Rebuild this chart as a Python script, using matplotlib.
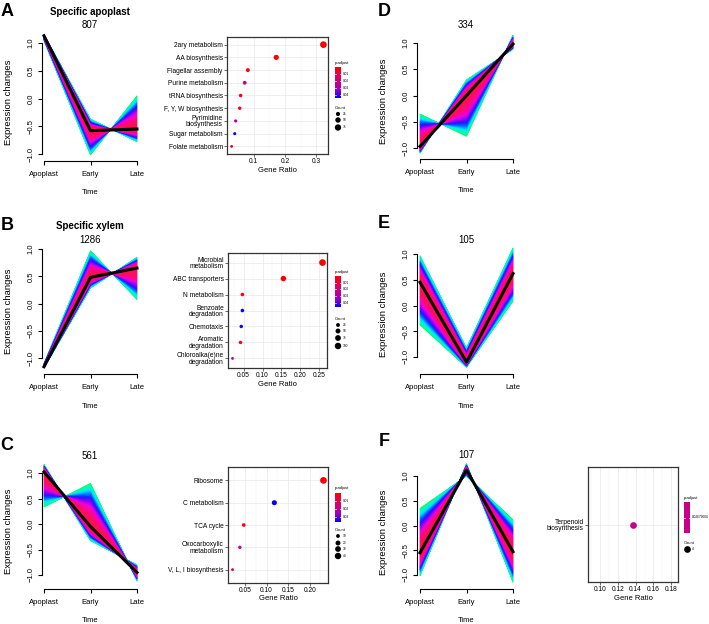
import numpy as np
import matplotlib
matplotlib.use('Agg')
import matplotlib.pyplot as plt
from matplotlib.colors import LinearSegmentedColormap

plt.rcParams['font.family'] = ['Liberation Sans', 'DejaVu Sans']

W, H = 709, 624

times = ['Apoplast', 'Early', 'Late']
yticks = [-1.0, -0.5, 0.0, 0.5, 1.0]

# cluster centroid and the two outermost member profiles of each band
a_center = [1.13, -0.58, -0.55]
a_edge1 = [1.04, -1.02, 0.05]
a_edge2 = [1.15, -0.37, -0.78]

b_center = [-1.16, 0.48, 0.65]
b_edge1 = [-1.10, 0.97, 0.07]
b_edge2 = [-1.18, 0.28, 0.85]

c_center = [1.02, -0.05, -0.95]
c_edge1 = [0.33, 0.80, -1.12]
c_edge2 = [1.17, -0.33, -0.80]

d_center = [-0.97, 0.0, 0.98]
d_edge1 = [-0.35, -0.78, 1.15]
d_edge2 = [-1.10, 0.30, 0.88]

e_center = [0.45, -1.10, 0.62]
e_edge1 = [0.97, -0.82, 1.12]
e_edge2 = [-0.38, -1.20, 0.08]

f_center = [-0.55, 1.12, -0.53]
f_edge1 = [0.35, 1.00, 0.12]
f_edge2 = [-1.02, 1.25, -1.15]

# enrichment dot plots
a_terms = ['2ary metabolism', 'AA biosynthesis', 'Flagellar assembly', 'Purine metabolism',
           'tRNA biosynthesis', 'F, Y, W biosynthesis', 'Pyrimidine\nbiosynthesis',
           'Sugar metabolism', 'Folate metabolism']
a_ratio = [0.323, 0.172, 0.081, 0.071, 0.058, 0.055, 0.042, 0.039, 0.029]
a_count = [85, 45, 21, 19, 15, 14, 11, 10, 8]
a_padj = [0.0005, 0.001, 0.004, 0.022, 0.003, 0.005, 0.032, 0.045, 0.012]

b_terms = ['Microbial\nmetabolism', 'ABC transporters', 'N metabolism', 'Benzoate\ndegradation',
           'Chemotaxis', 'Aromatic\ndegradation', 'Chloroalka(e)ne\ndegradation']
b_ratio = [0.258, 0.155, 0.047, 0.047, 0.044, 0.042, 0.021]
b_count = [108, 65, 20, 20, 18, 18, 9]
b_padj = [0.0001, 0.0002, 0.002, 0.046, 0.045, 0.003, 0.034]

c_terms = ['Ribosome', 'C metabolism', 'TCA cycle', 'Oxocarboxylic\nmetabolism', 'V, L, I biosynthesis']
c_ratio = [0.232, 0.118, 0.047, 0.038, 0.021]
c_count = [44, 22, 9, 7, 4]
c_padj = [0.0002, 0.036, 0.002, 0.018, 0.007]

f_terms = ['Terpenoid\nbiosynthesis']
f_ratio = [0.1365]
f_count = [4]
f_padj = [0.02679004]

band_cmap = LinearSegmentedColormap.from_list(
    'band', [(0.0, '#ff1040'), (0.3, '#ff0a78'), (0.45, '#f000e0'), (0.57, '#8000ff'),
             (0.66, '#1a1aff'), (0.75, '#0070ff'), (0.84, '#00e5ff'), (0.93, '#00ffb0'),
             (1.0, '#00ff60')])
padj_cmap = LinearSegmentedColormap.from_list(
    'padj', ['#ff0000', '#e7004f', '#c80088', '#9900c2', '#0000ff'])

fig = plt.figure(figsize=(W / 100, H / 100), dpi=100)

# pixel overlay for free text and legend keys
ov = fig.add_axes([0, 0, 1, 1])
ov.set_xlim(0, W)
ov.set_ylim(H, 0)
ov.axis('off')
ov.set_zorder(10)


def rect(l, t, r, b):
    return [l / W, 1 - b / H, (r - l) / W, (b - t) / H]


def line_panel(center, edge1, edge2, geo):
    xax, xa, xl, y1, ym1, yb = geo
    top, right = y1 - 18, xl + 4
    ax = fig.add_axes(rect(xax, top, right, yb))
    ppx = (xl - xa) / 2
    ppy = (ym1 - y1) / 2
    ax.set_xlim(1 - (xa - xax) / ppx, 3 + (right - xl) / ppx)
    ax.set_ylim(-1 - (yb - ym1) / ppy, 1 + (y1 - top) / ppy)
    ax.patch.set_alpha(0)
    x = np.arange(1, 4)
    c = np.array(center)
    n = 50
    steps = np.linspace(1, 0, n + 1)
    for i in range(n):
        col = band_cmap((steps[i] + steps[i + 1]) / 2)
        for e in (edge1, edge2):
            d = np.array(e) - c
            p0 = c + steps[i] * d
            p1 = c + steps[i + 1] * d
            ax.fill(np.r_[x, x[::-1]], np.r_[p0, p1[::-1]], color=col, lw=0.4, clip_on=False)
    ax.plot(x, c, color='black', lw=2.2, zorder=5, clip_on=False)
    for s in ('top', 'right'):
        ax.spines[s].set_visible(False)
    ax.spines['left'].set_bounds(-1, 1)
    ax.spines['bottom'].set_bounds(1, 3)
    for s in ('left', 'bottom'):
        ax.spines[s].set_linewidth(0.8)
    ax.set_xticks(x)
    ax.set_xticklabels(times)
    ax.set_yticks(yticks)
    ax.set_yticklabels([f'{v:.1f}'.replace('-', '\u2212') for v in yticks])
    ax.tick_params(length=3, width=0.8, labelsize=5.5)
    ax.tick_params(axis='x', pad=4)
    ax.tick_params(axis='y', pad=2.5)
    for lab in ax.get_yticklabels():
        lab.set_rotation(90)
        lab.set_va('center')
    ov.text(xax - 33, (y1 + yb) / 2, 'Expression changes', rotation=90, fontsize=6.8,
            ha='center', va='center')
    ov.text((xa + xl) / 2, yb + 32, 'Time', fontsize=5.5, ha='center', va='center')
    return ax


def dot_size(count, cmax):
    d = 1.2 + 5.5 * np.sqrt(np.array(count, dtype=float) / cmax)
    return (d * 0.72) ** 2


def dot_panel(terms, ratio, count, padj, box, xticks, xfmt, xlim=None):
    l, t, r, b = box
    ax = fig.add_axes(rect(l, t, r, b))
    n = len(terms)
    y = np.arange(n, 0, -1)
    lo, hi = min(padj), max(padj)
    if hi > lo:
        cols = padj_cmap((np.array(padj) - lo) / (hi - lo))
    else:
        cols = [padj_cmap(0.5)] * n
    ax.scatter(ratio, y, s=dot_size(count, max(count)), c=cols, linewidths=0, zorder=3)
    if xlim is None:
        span = max(ratio) - min(ratio)
        xlim = (min(ratio) - 0.05 * span, max(ratio) + 0.05 * span)
    ax.set_xlim(xlim)
    ax.set_ylim(0.4, n + 0.6)
    ax.set_yticks(y)
    ax.set_yticklabels(terms, fontsize=5, linespacing=0.85)
    ax.set_xticks(xticks)
    ax.set_xticklabels([xfmt % v for v in xticks])
    step = xticks[1] - xticks[0]
    ax.set_xticks(np.arange(xticks[0] - step / 2, xlim[1], step), minor=True)
    ax.grid(which='major', color='#ebebeb', lw=0.6)
    ax.grid(which='minor', axis='x', color='#f2f2f2', lw=0.35)
    ax.set_axisbelow(True)
    for s in ax.spines.values():
        s.set_color('#333333')
        s.set_linewidth(0.9)
    ax.tick_params(length=2, width=0.5, color='#333333', labelsize=4.8, pad=1)
    ax.tick_params(which='minor', length=0)
    ov.text((l + r) / 2, b + 16, 'Gene Ratio', fontsize=5.5, ha='center', va='center')
    return lo, hi, max(count)


def legend(x, ty, bt, bb, lo, hi, pticks, cy, cvals, cmax, plabels=None):
    ov.text(x, ty, 'p.adjust', fontsize=3, ha='left', va='center')
    cax = fig.add_axes(rect(x, bt, x + 6, bb))
    cax.axis('off')
    if hi > lo:
        cax.imshow(np.linspace(0, 1, 100)[:, None], cmap=padj_cmap, aspect='auto',
                   extent=[0, 1, hi, lo])
        pos = [bt + (p - lo) / (hi - lo) * (bb - bt) for p in pticks]
    else:
        cax.imshow([[0.5]], cmap=padj_cmap, vmin=0, vmax=1, aspect='auto', extent=[0, 1, 1, 0])
        pos = [(bt + bb) / 2]
    labels = plabels if plabels else [f'{p:.2f}' for p in pticks]
    for yy, lab in zip(pos, labels):
        ov.plot([x, x + 1.2], [yy, yy], color='white', lw=0.5)
        ov.plot([x + 4.8, x + 6], [yy, yy], color='white', lw=0.5)
        ov.text(x + 7.5, yy, lab, fontsize=2.3, ha='left', va='center')
    ov.text(x, cy[0] - 6, 'Count', fontsize=3, ha='left', va='center')
    ov.scatter([x + 3] * len(cvals), cy, s=dot_size(cvals, cmax), color='black', linewidths=0)
    for yy, v in zip(cy, cvals):
        ov.text(x + 7.5, yy, str(v), fontsize=2.3, ha='left', va='center')


# line panels: y-axis x, Apoplast x, Late x, y of +1, y of -1, x-axis y (pixels)
line_panel(a_center, a_edge1, a_edge2, (42, 44, 137, 43, 154, 161))
line_panel(b_center, b_edge1, b_edge2, (42, 44, 137, 249, 358, 374))
line_panel(c_center, c_edge1, c_edge2, (42, 44, 137, 473, 575, 589))
line_panel(d_center, d_edge1, d_edge2, (417, 420, 513, 43, 148, 159))
line_panel(e_center, e_edge1, e_edge2, (417, 420, 513, 254, 357, 374))
line_panel(f_center, f_edge1, f_edge2, (417, 420, 513, 476, 575, 589))

lo, hi, cm = dot_panel(a_terms, a_ratio, a_count, a_padj, (227, 37, 328, 154), [0.1, 0.2, 0.3], '%.1f')
legend(335, 63, 67, 98, lo, hi, [0.01, 0.02, 0.03, 0.04], [114, 120, 127.5], [25, 50, 75], cm)

lo, hi, cm = dot_panel(b_terms, b_ratio, b_count, b_padj, (228, 253, 327, 368),
                       [0.05, 0.10, 0.15, 0.20, 0.25], '%.2f')
legend(335, 272, 276, 307, lo, hi, [0.01, 0.02, 0.03, 0.04], [325, 331, 338, 346], [25, 50, 75, 100], cm)

lo, hi, cm = dot_panel(c_terms, c_ratio, c_count, c_padj, (228, 467, 328, 583),
                       [0.05, 0.10, 0.15, 0.20], '%.2f')
legend(335, 488, 493, 522, lo, hi, [0.01, 0.02, 0.03], [536, 543, 549, 556], [10, 20, 30, 40], cm)

lo, hi, cm = dot_panel(f_terms, f_ratio, f_count, f_padj, (588, 467, 678, 582),
                       [0.10, 0.12, 0.14, 0.16, 0.18], '%.2f', xlim=(0.0865, 0.1875))
legend(684, 498, 502, 533, lo, hi, f_padj, [549], [4], cm, plabels=['0.02679004'])

# titles and panel letters
bold = dict(fontweight='bold', ha='center', va='center')
ov.text(90, 12, 'Specific apoplast', fontsize=7, **bold)
ov.text(90, 25, '807', fontsize=7, ha='center', va='center')
ov.text(90, 226, 'Specific xylem', fontsize=7, **bold)
ov.text(90, 240, '1286', fontsize=7, ha='center', va='center')
ov.text(90, 456, '561', fontsize=7, ha='center', va='center')
ov.text(466, 25, '334', fontsize=7, ha='center', va='center')
ov.text(466, 240, '105', fontsize=7, ha='center', va='center')
ov.text(466, 455, '107', fontsize=7, ha='center', va='center')

for letter, lx, ly in [('A', 7, 11), ('B', 7, 225), ('C', 7, 445),
                       ('D', 384, 11), ('E', 384, 224), ('F', 384, 442)]:
    ov.text(lx, ly, letter, fontsize=13, **bold)

fig.savefig('out.png', dpi=100)
